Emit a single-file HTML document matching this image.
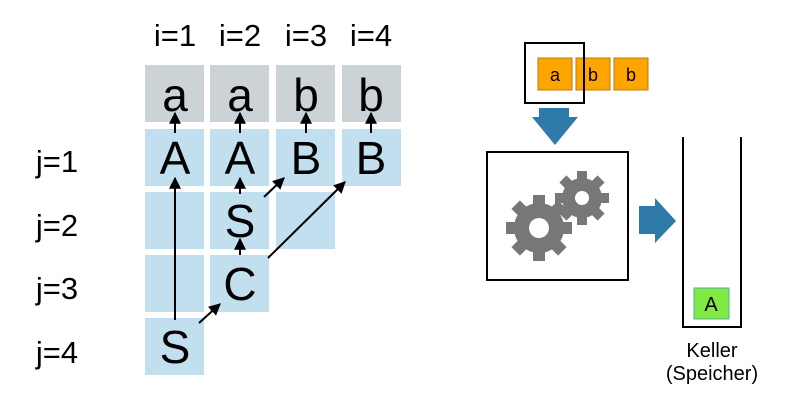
<!DOCTYPE html>
<html><head><style>
body{margin:0;background:#fff}
svg text{font-family:"Liberation Sans",sans-serif}
</style></head><body>
<svg width="800" height="400" viewBox="0 0 800 400" xmlns="http://www.w3.org/2000/svg">
<defs>
<marker id="ah" viewBox="0 0 10 10" refX="9" refY="5" markerWidth="6" markerHeight="6" orient="auto"><path d="M0,0L10,5L0,10z" fill="#000"/></marker>
</defs>
<g font-size="31" text-anchor="middle" fill="#000">
<text x="175" y="46">i=1</text><text x="240" y="46">i=2</text><text x="306" y="46">i=3</text><text x="371" y="46">i=4</text>
<text x="57" y="172">j=1</text><text x="57" y="236">j=2</text><text x="57" y="299">j=3</text><text x="57" y="363">j=4</text>
</g>
<g fill="#ccd3d6">
<rect x="145" y="65" width="59" height="57"/><rect x="210" y="65" width="59" height="57"/><rect x="276" y="65" width="59" height="57"/><rect x="342" y="65" width="59" height="57"/>
</g>
<g fill="#c2dff0">
<rect x="145" y="129" width="59" height="57"/><rect x="210" y="129" width="59" height="57"/><rect x="276" y="129" width="59" height="57"/><rect x="342" y="129" width="59" height="57"/>
<rect x="145" y="192" width="59" height="57"/><rect x="210" y="192" width="59" height="57"/><rect x="276" y="192" width="59" height="57"/>
<rect x="145" y="255" width="59" height="57"/><rect x="210" y="255" width="59" height="57"/>
<rect x="145" y="318" width="59" height="57"/>
</g>
<g font-size="46" text-anchor="middle" fill="#000">
<text x="175" y="111">a</text><text x="240" y="111">a</text><text x="306" y="111">b</text><text x="371" y="111">b</text>
<text x="175" y="174">A</text><text x="240" y="174">A</text><text x="306" y="174">B</text><text x="371" y="174">B</text>
<text x="240" y="237">S</text>
<text x="240" y="300">C</text>
<text x="175" y="363">S</text>
</g>
<g stroke="#000" stroke-width="2" marker-end="url(#ah)">
<line x1="175" y1="133" x2="175" y2="113"/><line x1="240" y1="133" x2="240" y2="113"/><line x1="306" y1="133" x2="306" y2="113"/><line x1="371" y1="133" x2="371" y2="113"/>
<line x1="175" y1="320" x2="175" y2="178"/>
<line x1="199" y1="323" x2="220" y2="304"/>
<line x1="240" y1="255" x2="240" y2="239"/>
<line x1="240" y1="194" x2="240" y2="178"/>
<line x1="264" y1="197" x2="284" y2="178"/>
<line x1="268" y1="258" x2="345" y2="182"/>
</g>
<g font-size="18" text-anchor="middle">
<rect x="538" y="58" width="34" height="32" fill="#ffa500" stroke="#b87a10"/>
<rect x="576" y="58" width="34" height="32" fill="#ffa500" stroke="#b87a10"/>
<rect x="614" y="58" width="34" height="32" fill="#ffa500" stroke="#b87a10"/>
<text x="555" y="81">a</text><text x="593" y="81">b</text><text x="631" y="81">b</text>
</g>
<rect x="525" y="43" width="59" height="60" fill="none" stroke="#000" stroke-width="2"/>
<path d="M539,108H569V117H578L555,145L532,117H539Z" fill="#2e7aab"/>
<rect x="487" y="152" width="141" height="128" fill="none" stroke="#000" stroke-width="2"/>
<path d="M639,206H655V198L676,221L655,243V234H639Z" fill="#2e7aab"/>
<g fill="#777">
<g transform="translate(539,228)">
<circle r="25"/>
<g id="t1"><rect x="-6" y="-33" width="12" height="12"/></g>
<use href="#t1" transform="rotate(45)"/><use href="#t1" transform="rotate(90)"/><use href="#t1" transform="rotate(135)"/><use href="#t1" transform="rotate(180)"/><use href="#t1" transform="rotate(225)"/><use href="#t1" transform="rotate(270)"/><use href="#t1" transform="rotate(315)"/>
<circle r="10" fill="#fff"/>
</g>
<g transform="translate(582,198)">
<circle r="20"/>
<g id="t2"><rect x="-5" y="-27" width="10" height="10"/></g>
<use href="#t2" transform="rotate(45)"/><use href="#t2" transform="rotate(90)"/><use href="#t2" transform="rotate(135)"/><use href="#t2" transform="rotate(180)"/><use href="#t2" transform="rotate(225)"/><use href="#t2" transform="rotate(270)"/><use href="#t2" transform="rotate(315)"/>
<circle r="7" fill="#fff"/>
</g>
</g>
<path d="M683,137V327H741V137" fill="none" stroke="#000" stroke-width="2"/>
<rect x="694" y="288" width="35" height="31" fill="#80ea40" stroke="#5a9"/>
<text x="711" y="311" font-size="20" text-anchor="middle">A</text>
<text x="712" y="357" font-size="20" text-anchor="middle">Keller</text>
<text x="712" y="380" font-size="20" text-anchor="middle">(Speicher)</text>
</svg>
</body></html>
